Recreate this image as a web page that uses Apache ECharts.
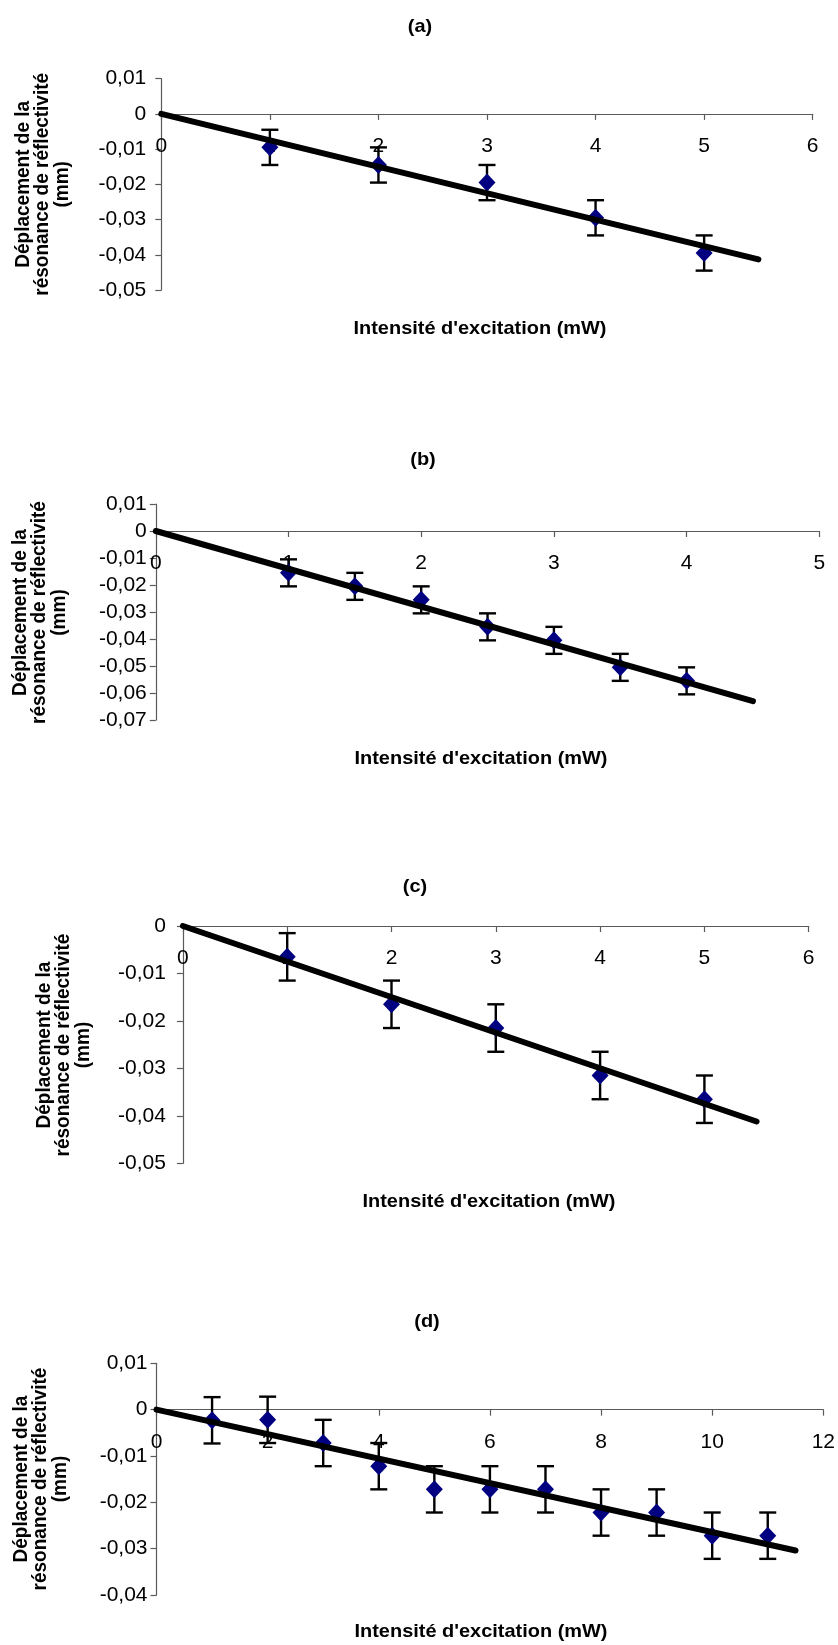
<!DOCTYPE html>
<html>
<head>
<meta charset="utf-8">
<script src="https://cdn.jsdelivr.net/npm/echarts@6/dist/echarts.min.js"></script>
<style>
  html, body { margin: 0; padding: 0; background: #fff; }
  #chart { width: 838px; height: 1645px; }
</style>
</head>
<body>
<div id="chart"></div>
<script>
// ---------- DATA ----------
const panelTitles = ['(a)', '(b)', '(c)', '(d)'];
const xTitle = "Intensité d'excitation (mW)";
const yTitle = 'Déplacement de la\nrésonance de réflectivité\n(mm)';

const xA = [1, 2, 3, 4, 5];
const yA = [-0.0095, -0.0145, -0.0195, -0.0295, -0.0395];
const errA = [0.005, 0.005, 0.005, 0.005, 0.005];
const trendXA = [0, 5.5];
const trendYA = [0, -0.0413];

const xB = [1, 1.5, 2, 2.5, 3, 3.5, 4];
const yB = [-0.0155, -0.0205, -0.0255, -0.0355, -0.0405, -0.0505, -0.0555];
const errB = [0.005, 0.005, 0.005, 0.005, 0.005, 0.005, 0.005];
const trendXB = [0, 4.5];
const trendYB = [0, -0.063];

const xC = [1, 2, 3, 4, 5];
const yC = [-0.0065, -0.0165, -0.0215, -0.0315, -0.0365];
const errC = [0.005, 0.005, 0.005, 0.005, 0.005];
const trendXC = [0, 5.5];
const trendYC = [0, -0.0412];

const xD = [1, 2, 3, 4, 5, 6, 7, 8, 9, 10, 11];
const yD = [-0.0023, -0.0022, -0.0072, -0.0122, -0.0172, -0.0172, -0.0172, -0.0222, -0.0222, -0.0272, -0.0272];
const errD = [0.005, 0.005, 0.005, 0.005, 0.005, 0.005, 0.005, 0.005, 0.005, 0.005, 0.005];
const trendXD = [0, 11.5];
const trendYD = [0, -0.0304];

// axis ranges
const xMax = [6, 5, 6, 12];
const xInterval = [1, 1, 1, 2];
const yMin = [-0.05, -0.07, -0.05, -0.04];
const yMax = [0.01, 0.01, 0, 0.01];
const yInterval = [0.01, 0.01, 0.01, 0.01];

const dataSets = [
  { x: xA, y: yA, e: errA, tx: trendXA, ty: trendYA },
  { x: xB, y: yB, e: errB, tx: trendXB, ty: trendYB },
  { x: xC, y: yC, e: errC, tx: trendXC, ty: trendYC },
  { x: xD, y: yD, e: errD, tx: trendXD, ty: trendYD }
];

// ---------- LAYOUT ----------
const layout = [
  { grid: { left: 161.3, top: 78.7, width: 651.4, height: 211.3 }, yLabelMargin: 15,
    title: [420, 26.7], xt: [480, 328.3], yt: [43, 184.3] },
  { grid: { left: 155.8, top: 504, width: 663.5, height: 216 }, yLabelMargin: 9,
    title: [423, 460], xt: [481, 758.3], yt: [40, 612.5] },
  { grid: { left: 182.9, top: 926, width: 625.8, height: 237.3 }, yLabelMargin: 17,
    title: [415, 886.7], xt: [489, 1201.7], yt: [64, 1045] },
  { grid: { left: 156.5, top: 1363.3, width: 667.2, height: 231.7 }, yLabelMargin: 9,
    title: [427, 1321.7], xt: [481, 1631.7], yt: [41, 1479] }
];

const FONT = '"Liberation Sans", Arial, sans-serif';
const STRETCH = 1.05;
const axisColor = '#5a5a5a';

function fmtY(v) {
  const r = Math.round(v * 1000) / 1000;
  if (r === 0) return '0';
  return String(r).replace('.', ',');
}

const grids = [], xAxes = [], yAxes = [], series = [], graphics = [];

layout.forEach((L, i) => {
  grids.push(Object.assign({ containLabel: false }, L.grid));
  // place the x axis on the y = 0 line of its grid
  const zeroOffset = -L.grid.height * (0 - yMin[i]) / (yMax[i] - yMin[i]);
  xAxes.push({
    type: 'value', gridIndex: i, min: 0, max: xMax[i], interval: xInterval[i],
    position: 'bottom', offset: zeroOffset,
    axisLine: { show: true, onZero: false, lineStyle: { color: axisColor, width: 1.2 } },
    axisTick: { show: true, inside: false, length: 6, lineStyle: { color: axisColor, width: 1.2 } },
    axisLabel: { color: '#000', fontSize: 21, fontFamily: FONT, margin: 22,
                 formatter: v => String(Math.round(v * 100) / 100) },
    splitLine: { show: false }
  });
  yAxes.push({
    type: 'value', gridIndex: i, min: yMin[i], max: yMax[i], interval: yInterval[i],
    axisLine: { show: true, onZero: false, lineStyle: { color: axisColor, width: 1.2 } },
    axisTick: { show: true, inside: false, length: 6, lineStyle: { color: axisColor, width: 1.2 } },
    axisLabel: { color: '#000', fontSize: 21, fontFamily: FONT, margin: L.yLabelMargin, formatter: fmtY },
    splitLine: { show: false }
  });

  const d = dataSets[i];
  series.push({
    type: 'custom', xAxisIndex: i, yAxisIndex: i, z: 2,
    data: d.x.map((x, j) => [x, d.y[j], d.e[j]]),
    encode: { x: 0, y: 1 },
    renderItem: function (params, api) {
      const x = api.value(0), y = api.value(1), e = api.value(2);
      const hi = api.coord([x, y + e]);
      const lo = api.coord([x, y - e]);
      const hw = 8.5;
      const st = { stroke: '#000', lineWidth: 2.4 };
      return {
        type: 'group',
        children: [
          { type: 'line', shape: { x1: hi[0], y1: hi[1], x2: lo[0], y2: lo[1] }, style: st },
          { type: 'line', shape: { x1: hi[0] - hw, y1: hi[1], x2: hi[0] + hw, y2: hi[1] }, style: st },
          { type: 'line', shape: { x1: lo[0] - hw, y1: lo[1], x2: lo[0] + hw, y2: lo[1] }, style: st }
        ]
      };
    },
    silent: true
  });
  series.push({
    type: 'scatter', xAxisIndex: i, yAxisIndex: i, z: 3,
    symbol: 'diamond', symbolSize: [17, 18],
    itemStyle: { color: '#000080', opacity: 1 },
    data: d.x.map((x, j) => [x, d.y[j]]),
    silent: true
  });
  series.push({
    type: 'line', xAxisIndex: i, yAxisIndex: i, z: 4,
    showSymbol: false, symbol: 'none',
    lineStyle: { color: '#000', width: 6, cap: 'round' },
    data: d.tx.map((x, j) => [x, d.ty[j]]),
    silent: true
  });

  graphics.push({
    type: 'text', x: L.title[0], y: L.title[1], scaleX: STRETCH,
    style: { text: panelTitles[i], fontSize: 19, fontWeight: 'bold', fontFamily: FONT, fill: '#000',
             align: 'center', verticalAlign: 'middle', textAlign: 'center', textVerticalAlign: 'middle' }
  });
  graphics.push({
    type: 'text', x: L.xt[0], y: L.xt[1], scaleX: STRETCH,
    style: { text: xTitle, fontSize: 19, fontWeight: 'bold', fontFamily: FONT, fill: '#000',
             align: 'center', verticalAlign: 'middle', textAlign: 'center', textVerticalAlign: 'middle' }
  });
  graphics.push({
    type: 'text', x: L.yt[0], y: L.yt[1], rotation: Math.PI / 2, scaleY: STRETCH,
    style: { text: yTitle, fontSize: 19, fontWeight: 'bold', fontFamily: FONT, fill: '#000',
             lineHeight: 18.5,
             align: 'center', verticalAlign: 'middle', textAlign: 'center', textVerticalAlign: 'middle' }
  });
});

const chart = echarts.init(document.getElementById('chart'), null, { renderer: 'canvas' });
chart.setOption({
  backgroundColor: '#ffffff',
  animation: false,
  grid: grids,
  xAxis: xAxes,
  yAxis: yAxes,
  series: series,
  graphic: { elements: graphics }
});
</script>
</body>
</html>
